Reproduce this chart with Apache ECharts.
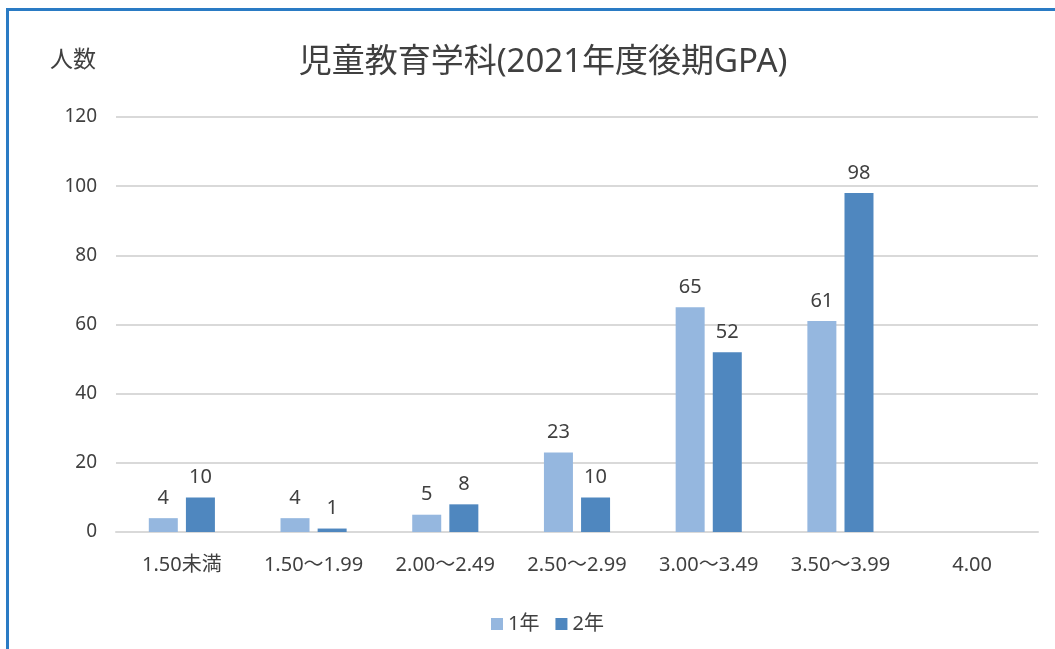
<!DOCTYPE html>
<html>
<head>
<meta charset="utf-8">
<script src="https://cdn.jsdelivr.net/npm/echarts@6/dist/echarts.min.js"></script>
<style>
html, body { margin: 0; padding: 0; background: #fff; overflow: hidden; }
#frame { position: absolute; left: 6px; top: 8px; width: 1100px; height: 700px; border-top: 3px solid #2a7bc4; border-left: 3px solid #2a7bc4; }
#chart { position: absolute; left: 0; top: 0; width: 1055px; height: 649px; }
</style>
</head>
<body>
<div id="frame"></div>
<div id="chart"></div>
<script>
var categories = ['1.50未満', '1.50～1.99', '2.00～2.49', '2.50～2.99', '3.00～3.49', '3.50～3.99', '4.00'];
var year1 = [4, 4, 5, 23, 65, 61, null];
var year2 = [10, 1, 8, 10, 52, 98, null];
var yTicks = { min: 0, max: 120, interval: 20 };

var font = '"Noto Sans", "Noto Sans CJK JP", sans-serif';
var chart = echarts.init(document.getElementById('chart'));
var option = {
	textStyle: { fontFamily: font },
	title: {
		text: '児童教育学科(2021年度後期GPA)',
		left: 538,
		textAlign: 'center',
		top: 41,
		textStyle: { fontSize: 33, fontWeight: 'normal', color: '#404040', fontFamily: font }
	},
	legend: {
		data: ['1年', '2年'],
		left: 486,
		top: 609,
		itemWidth: 12,
		itemHeight: 12,
		itemGap: 16,
		icon: 'rect',
		textStyle: { fontSize: 20, color: '#404040', fontFamily: font }
	},
	grid: { left: 116, right: 17, top: 117, bottom: 117 },
	xAxis: {
		type: 'category',
		data: categories,
		axisLine: { lineStyle: { color: '#d9d9d9', width: 2 } },
		axisTick: { show: false },
		axisLabel: { fontSize: 20, color: '#404040', margin: 23, fontFamily: font }
	},
	yAxis: {
		type: 'value',
		min: yTicks.min,
		max: yTicks.max,
		interval: yTicks.interval,
		name: '人数',
		nameLocation: 'end',
		nameGap: 45,
		nameTextStyle: { fontSize: 23, color: '#404040', align: 'right', padding: [0, 20, 0, 0], fontFamily: font },
		axisLine: { show: false },
		axisTick: { show: false },
		axisLabel: { fontSize: 19, color: '#404040', margin: 19, fontFamily: font },
		splitLine: { lineStyle: { color: '#d9d9d9', width: 2 } }
	},
	series: [{
		name: '1年',
		type: 'bar',
		data: year1,
		barWidth: 29,
		barGap: '28%',
		itemStyle: { color: '#95b7df' },
		label: { show: true, position: 'top', distance: 10, fontSize: 20, color: '#404040', fontFamily: font }
	}, {
		name: '2年',
		type: 'bar',
		data: year2,
		barWidth: 29,
		itemStyle: { color: '#4f87bf' },
		label: { show: true, position: 'top', distance: 10, fontSize: 20, color: '#404040', fontFamily: font }
	}]
};
chart.setOption(option);
</script>
</body>
</html>
